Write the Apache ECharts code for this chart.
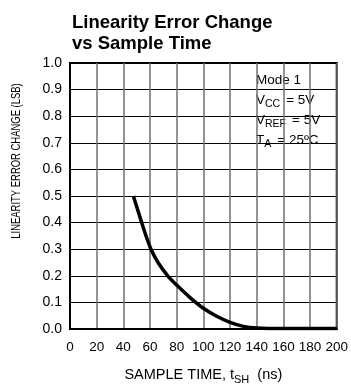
<!DOCTYPE html>
<html>
<head>
<meta charset="utf-8">
<script src="https://cdn.jsdelivr.net/npm/echarts@6/dist/echarts.min.js"></script>
<style>
    html, body { margin: 0; padding: 0; background: #fff; }
    #chart { width: 351px; height: 390px; }
</style>
</head>
<body>
<div id="chart"></div>
<script>
// 采样时间 (ns) 与线性误差变化 (LSB)
var sampleTime = [47.5, 50, 53.75, 57, 60.75, 66, 73.3, 80, 90, 100, 110, 120, 130, 140, 160, 180, 200];
var errorChange = [0.5, 0.46, 0.4, 0.35, 0.3, 0.25, 0.2, 0.165, 0.118, 0.078, 0.048, 0.025, 0.01, 0.004, 0.002, 0.002, 0.002];
var xTicks = [0, 20, 40, 60, 80, 100, 120, 140, 160, 180, 200];
var yTicks = [0, 0.1, 0.2, 0.3, 0.4, 0.5, 0.6, 0.7, 0.8, 0.9, 1.0];
var conditions = ['Mode 1', 'V{s|CC}= 5V', 'V{s|REF}= 5V', 'T{s|A}= 25ºC'];
var yName = 'LINEARITY ERROR CHANGE (LSB)';

var sans = '"Liberation Sans", Arial, sans-serif';

var points = sampleTime.map(function (t, i) {
    return [t, errorChange[i]];
});

var chart = echarts.init(document.getElementById('chart'), null, {renderer: 'canvas'});
var option = {
    backgroundColor: '#fff',
    animation: false,
    title: {
        text: 'Linearity Error Change\nvs Sample Time',
        left: 67,
        top: 7,
        textStyle: {
            fontFamily: sans,
            fontWeight: 'bold',
            fontSize: 18.5,
            lineHeight: 21,
            color: '#000'
        }
    },
    grid: {
        left: 70,
        right: 14,
        top: 63,
        bottom: 60,
        show: true,
        borderColor: '#000',
        borderWidth: 2,
        backgroundColor: 'transparent'
    },
    xAxis: {
        type: 'value',
        min: xTicks[0],
        max: xTicks[xTicks.length - 1],
        interval: 20,
        name: 'SAMPLE TIME, t{s|SH}  (ns)',
        nameLocation: 'middle',
        nameGap: 36,
        nameTextStyle: {
            fontFamily: sans,
            fontSize: 14.5,
            lineHeight: 20,
            color: '#000',
            rich: {
                s: {fontFamily: sans, fontSize: 11, lineHeight: 12, verticalAlign: 'bottom'}
            }
        },
        axisLine: {show: true, lineStyle: {color: '#000', width: 2}},
        axisTick: {show: false},
        axisLabel: {
            margin: 11,
            fontFamily: sans,
            fontSize: 13.5,
            color: '#000'
        },
        splitLine: {show: true, lineStyle: {color: '#707070', width: 1.5}}
    },
    yAxis: {
        type: 'value',
        min: yTicks[0],
        max: yTicks[yTicks.length - 1],
        interval: 0.1,
        axisLine: {show: true, lineStyle: {color: '#000', width: 2}},
        axisTick: {show: false},
        axisLabel: {
            margin: 8,
            fontFamily: sans,
            fontSize: 14,
            color: '#000',
            formatter: function (v) { return v.toFixed(1); }
        },
        splitLine: {show: true, lineStyle: {color: '#000', width: 1.2}}
    },
    graphic: [{
        // 纵轴名称 (字体较窄, 用 scaleX 压缩)
        type: 'text',
        x: 16,
        y: 161,
        rotation: Math.PI / 2,
        scaleX: 0.7,
        style: {
            text: yName,
            fontFamily: sans,
            fontSize: 13.5,
            fill: '#000',
            align: 'center',
            verticalAlign: 'middle'
        }
    }, {
        type: 'group',
        left: 245,
        top: 65,
        z: 10,
        children: [{
            type: 'rect',
            shape: {x: 0, y: 0, width: 89, height: 92},
            style: {fill: '#fff'}
        }, {
            type: 'text',
            x: 11,
            y: 5,
            style: {
                text: conditions.join('\n'),
                fontFamily: sans,
                fontSize: 13.5,
                lineHeight: 20,
                fill: '#000',
                rich: {
                    s: {fontFamily: sans, fontSize: 10.5, lineHeight: 12, verticalAlign: 'bottom', padding: [0, 6, 0, 0]}
                }
            }
        }]
    }],
    series: [{
        type: 'line',
        data: points,
        smooth: 0.3,
        symbol: 'none',
        lineStyle: {color: '#000', width: 3.5},
        z: 5
    }]
};
chart.setOption(option);
</script>
</body>
</html>
